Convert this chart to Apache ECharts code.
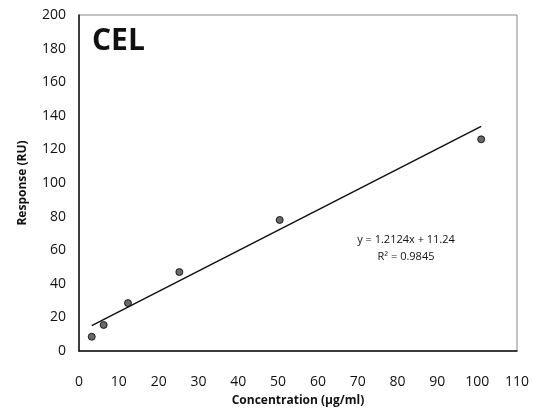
<!DOCTYPE html>
<html>
<head>
<meta charset="utf-8">
<script src="https://cdn.jsdelivr.net/npm/echarts@6/dist/echarts.min.js"></script>
<style>
  html, body { margin: 0; padding: 0; background: #fff; }
  #chart { width: 533px; height: 414px; }
</style>
</head>
<body>
<div id="chart"></div>
<script>
var concentration = [3.2, 6.2, 12.3, 25.2, 50.4, 101]
var response = [8.5, 15.5, 28.5, 47, 78, 126]
// linear trendline from the chart
var slope = 1.2124
var intercept = 11.24
var xTicks = [0, 10, 20, 30, 40, 50, 60, 70, 80, 90, 100, 110]
var yTicks = [0, 20, 40, 60, 80, 100, 120, 140, 160, 180, 200]

var points = concentration.map(function (c, i) { return [c, response[i]] })
var xFirst = concentration[0]
var xLast = concentration[concentration.length - 1]
var trend = [[xFirst, slope * xFirst + intercept], [xLast, slope * xLast + intercept]]

var font = '"Open Sans", "Noto Sans", sans-serif'
var chart = echarts.init(document.getElementById('chart'))
var option = {
  animation: false,
  grid: {
    left: 79,
    right: 16,
    top: 15,
    bottom: 63,
    show: true,
    borderColor: '#888',
    borderWidth: 1
  },
  xAxis: {
    type: 'value',
    min: xTicks[0],
    max: xTicks[xTicks.length - 1],
    interval: 10,
    name: 'Concentration (µg/ml)',
    nameLocation: 'middle',
    nameGap: 44,
    nameTextStyle: { fontFamily: font, fontWeight: 'bold', fontSize: 12, color: '#111' },
    axisLine: { lineStyle: { color: '#111', width: 1.5 } },
    axisTick: { show: false },
    splitLine: { show: false },
    axisLabel: { fontFamily: font, fontSize: 14, fontWeight: 500, color: '#111', margin: 24 }
  },
  yAxis: {
    type: 'value',
    min: yTicks[0],
    max: yTicks[yTicks.length - 1],
    interval: 20,
    name: 'Response (RU)',
    nameLocation: 'middle',
    nameGap: 50,
    nameTextStyle: { fontFamily: font, fontWeight: 'bold', fontSize: 12, color: '#111' },
    axisLine: { show: true, lineStyle: { color: '#111', width: 1.5 } },
    axisTick: { show: false },
    splitLine: { show: false },
    axisLabel: { fontFamily: font, fontSize: 14, fontWeight: 500, color: '#111', margin: 13 }
  },
  graphic: [
    {
      type: 'text',
      left: 92,
      top: 26,
      style: { text: 'CEL', font: 'bold 30px ' + font, fill: '#111' }
    },
    {
      type: 'text',
      x: 406,
      y: 248,
      style: {
        text: 'y = 1.2124x + 11.24\nR² = 0.9845',
        font: '11px ' + font,
        fill: '#111',
        align: 'center',
        verticalAlign: 'middle',
        lineHeight: 17
      }
    }
  ],
  series: [
    {
      type: 'line',
      data: trend,
      symbol: 'none',
      lineStyle: { color: '#111', width: 1.5 },
      z: 2
    },
    {
      type: 'scatter',
      data: points,
      symbolSize: 7,
      itemStyle: { color: '#444', borderColor: '#000', borderWidth: 1 },
      z: 3
    }
  ]
}
chart.setOption(option)
</script>
</body>
</html>
